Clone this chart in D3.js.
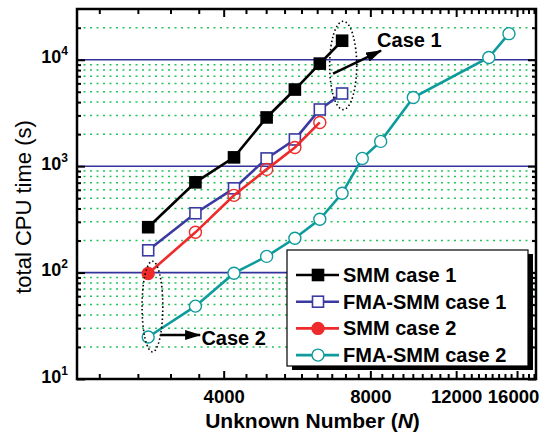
<!DOCTYPE html>
<html>
<head>
<meta charset="utf-8">
<script src="https://cdn.jsdelivr.net/npm/d3@7"></script>
<style>
  body { margin: 0; background: #fff; }
  text { font-family: "Liberation Sans", Arial, sans-serif; }
</style>
</head>
<body>
<div id="chart"></div>
<script>
// unknowns N for each run
var nCase1 = [2800, 3500, 4200, 4900, 5600, 6300, 7000];
var nSmm2 = [2800, 3500, 4200, 4900, 5600, 6300];
var nFma2 = [2800, 3500, 4200, 4900, 5600, 6300, 7000, 7700, 8400, 9800, 14000, 15400];
// CPU time in seconds
var smmCase1 = [267, 705, 1210, 2870, 5250, 9200, 15100];
var fmaCase1 = [162, 361, 619, 1183, 1783, 3410, 4820];
var smmCase2 = [98, 239, 532, 933, 1500, 2576];
var fmaCase2 = [24.8, 48.4, 98.7, 142, 210, 317, 556, 1183, 1710, 4420, 10500, 17600];
var seriesNames = ["SMM case 1", "FMA-SMM case 1", "SMM case 2", "FMA-SMM case 2"];
var xMajor = [4000, 8000, 12000, 16000];
var yMajor = [10, 100, 1000, 10000];
// annotations, in data units
var ellipseN = [[6600, 7500], [2720, 3000]];
var ellipseT = [[3400, 23000], [18, 128]];
var arrowFrom = [[6707, 7410], [2963, 25.9]];
var arrowTo = [[8414, 12190], [3579, 25.9]];
var labelAt = [[8258, 13300], [3600, 20.8]];
var labelText = ["Case 1", "Case 2"];

var W = 540, H = 445;
var margin = { top: 9, right: 4, bottom: 66, left: 77 },
  width = W - margin.left - margin.right,
  height = H - margin.top - margin.bottom;

var navy = "#33339c", green = "#22c45a";
var series = [
  { name: seriesNames[0], n: nCase1, t: smmCase1, color: "#000", shape: "square", fill: "#000" },
  { name: seriesNames[1], n: nCase1, t: fmaCase1, color: "#3a3aa2", shape: "square", fill: "#fff" },
  { name: seriesNames[2], n: nSmm2, t: smmCase2, color: "#ee2a2a", shape: "circle", fill: "none" },
  { name: seriesNames[3], n: nFma2, t: fmaCase2, color: "#0d9b9b", shape: "circle", fill: "#fff" }
];

var svg = d3.select("#chart").append("svg")
  .attr("width", W).attr("height", H);
var g = svg.append("g").attr("transform", "translate(" + margin.left + "," + margin.top + ")");

var x = d3.scaleLog().domain([2000, 17500]).range([0, width]);
var y = d3.scaleLog().domain([10, 30000]).range([height, 0]);

// minor ticks: 8 between each major step of 4000
var xMinor = d3.range(5, 40).filter(function (k) { return k % 9 != 0; })
  .map(function (k) { return k * 4000 / 9; });
var yMinor = [];
[10, 100, 1000, 10000].forEach(function (e) {
  d3.range(2, 10).forEach(function (m) { if (m * e < 30000) yMinor.push(m * e); });
});

// grid
g.selectAll(".gminor").data(yMinor).enter().append("line")
  .attr("x1", 0).attr("x2", width)
  .attr("y1", function (d) { return y(d); }).attr("y2", function (d) { return y(d); })
  .attr("stroke", green).attr("stroke-width", 1.5).attr("stroke-dasharray", "2,4.5");
g.selectAll(".gmajor").data([100, 1000, 10000]).enter().append("line")
  .attr("x1", 0).attr("x2", width)
  .attr("y1", function (d) { return y(d); }).attr("y2", function (d) { return y(d); })
  .attr("stroke", navy).attr("stroke-width", 1.6);

// axes (ticks inward)
function styleAxis(sel) {
  sel.select(".domain").remove();
  sel.selectAll(".tick line").attr("stroke", "#000").attr("stroke-width", 2);
}
g.append("g").attr("transform", "translate(0," + height + ")")
  .call(d3.axisBottom(x).tickValues(xMinor).tickSize(-5).tickFormat("")).call(styleAxis);
g.append("g").attr("transform", "translate(0," + height + ")")
  .call(d3.axisBottom(x).tickValues(xMajor).tickSize(-8).tickPadding(11).tickFormat(d3.format("d")))
  .call(styleAxis)
  .selectAll("text").attr("font-size", 18.5).attr("font-weight", "bold").attr("fill", "#000")
  .attr("dx", function (d) { return d == 16000 ? -4 : 0; });
g.append("g").call(d3.axisTop(x).tickValues(xMinor).tickSize(-5).tickFormat("")).call(styleAxis);
g.append("g").call(d3.axisTop(x).tickValues(xMajor).tickSize(-8).tickFormat("")).call(styleAxis);

g.append("g").call(d3.axisLeft(y).tickValues(yMinor).tickSize(-4).tickFormat("")).call(styleAxis);
var yl = g.append("g").call(d3.axisLeft(y).tickValues(yMajor).tickSize(-8).tickPadding(9).tickFormat(""))
  .call(styleAxis);
yl.selectAll(".tick text").each(function (d) {
  var t = d3.select(this).attr("font-weight", "bold").attr("fill", "#000");
  t.append("tspan").attr("font-size", 18).text("10");
  t.append("tspan").attr("font-size", 12).attr("dy", -8).text(Math.round(Math.log10(d)));
});
g.append("g").attr("transform", "translate(" + width + ",0)")
  .call(d3.axisRight(y).tickValues(yMinor).tickSize(-4).tickFormat("")).call(styleAxis);
g.append("g").attr("transform", "translate(" + width + ",0)")
  .call(d3.axisRight(y).tickValues(yMajor).tickSize(-8).tickFormat("")).call(styleAxis);

g.append("rect").attr("width", width).attr("height", height)
  .attr("fill", "none").attr("stroke", "#000").attr("stroke-width", 2.5);

// series
var line = d3.line()
  .x(function (d) { return x(d[0]); })
  .y(function (d) { return y(d[1]); });

function marker(sel, s, size) {
  if (s.shape == "square") {
    sel.append("rect").attr("x", -size / 2).attr("y", -size / 2)
      .attr("width", size).attr("height", size)
      .attr("fill", s.fill).attr("stroke", s.color).attr("stroke-width", 1.6);
  } else {
    sel.append("circle").attr("r", size / 2 + 0.5)
      .attr("fill", s.fill).attr("stroke", s.color).attr("stroke-width", 1.4);
  }
}

series.forEach(function (s) {
  var pts = s.n.map(function (n, i) { return [n, s.t[i]]; });
  g.append("path").datum(pts).attr("d", line)
    .attr("fill", "none").attr("stroke", s.color).attr("stroke-width", 2.6);
  pts.forEach(function (p, i) {
    var m = g.append("g").attr("transform", "translate(" + x(p[0]) + "," + y(p[1]) + ")");
    var st = Object.assign({}, s);
    if (s.name == "SMM case 2" && i == 0) st.fill = s.color;
    marker(m, st, 11);
  });
});

// annotations
svg.append("defs").append("marker").attr("id", "ah")
  .attr("viewBox", "0 0 16 10").attr("refX", 15).attr("refY", 5)
  .attr("markerWidth", 16).attr("markerHeight", 10)
  .attr("markerUnits", "userSpaceOnUse").attr("orient", "auto")
  .append("path").attr("d", "M0,0L16,5L0,10Z").attr("fill", "#000");

ellipseN.forEach(function (en, i) {
  var et = ellipseT[i];
  g.append("ellipse")
    .attr("cx", (x(en[0]) + x(en[1])) / 2).attr("cy", (y(et[0]) + y(et[1])) / 2)
    .attr("rx", (x(en[1]) - x(en[0])) / 2).attr("ry", (y(et[0]) - y(et[1])) / 2)
    .attr("fill", "none").attr("stroke", "#000").attr("stroke-width", 1.6)
    .attr("stroke-dasharray", "1.5,2.5");
  g.append("line")
    .attr("x1", x(arrowFrom[i][0])).attr("y1", y(arrowFrom[i][1]))
    .attr("x2", x(arrowTo[i][0])).attr("y2", y(arrowTo[i][1]))
    .attr("stroke", "#000").attr("stroke-width", 2.5).attr("marker-end", "url(#ah)");
  g.append("text").attr("x", x(labelAt[i][0])).attr("y", y(labelAt[i][1]))
    .attr("font-size", 20).attr("font-weight", "bold").text(labelText[i]);
});

// legend
var lg = svg.append("g").attr("transform", "translate(287,250)");
lg.append("rect").attr("x", 5).attr("y", 4).attr("width", 241).attr("height", 116).attr("fill", "#000");
lg.append("rect").attr("width", 241).attr("height", 116)
  .attr("fill", "#fff").attr("stroke", "#000").attr("stroke-width", 1.2);
series.forEach(function (s, i) {
  var row = lg.append("g").attr("transform", "translate(0," + (25 + i * 26.7) + ")");
  row.append("line").attr("x1", 9).attr("x2", 52)
    .attr("stroke", s.color).attr("stroke-width", 2.6);
  var m = row.append("g").attr("transform", "translate(31,0)");
  var st = Object.assign({}, s);
  if (s.name == "SMM case 2") st.fill = s.color;
  marker(m, st, 11);
  row.append("text").attr("x", 56).attr("dy", "0.35em")
    .attr("font-size", 20).attr("font-weight", "bold").text(s.name);
});

// axis titles
var xt = svg.append("text").attr("x", margin.left + width / 2 + 6).attr("y", 428)
  .attr("text-anchor", "middle").attr("font-size", 21).attr("font-weight", "bold");
xt.append("tspan").text("Unknown Number (");
xt.append("tspan").attr("font-style", "italic").text("N");
xt.append("tspan").text(")");
svg.append("text").attr("transform", "translate(31,207) rotate(-90)")
  .attr("text-anchor", "middle").attr("font-size", 22).text("total CPU time (s)");
</script>
</body>
</html>
